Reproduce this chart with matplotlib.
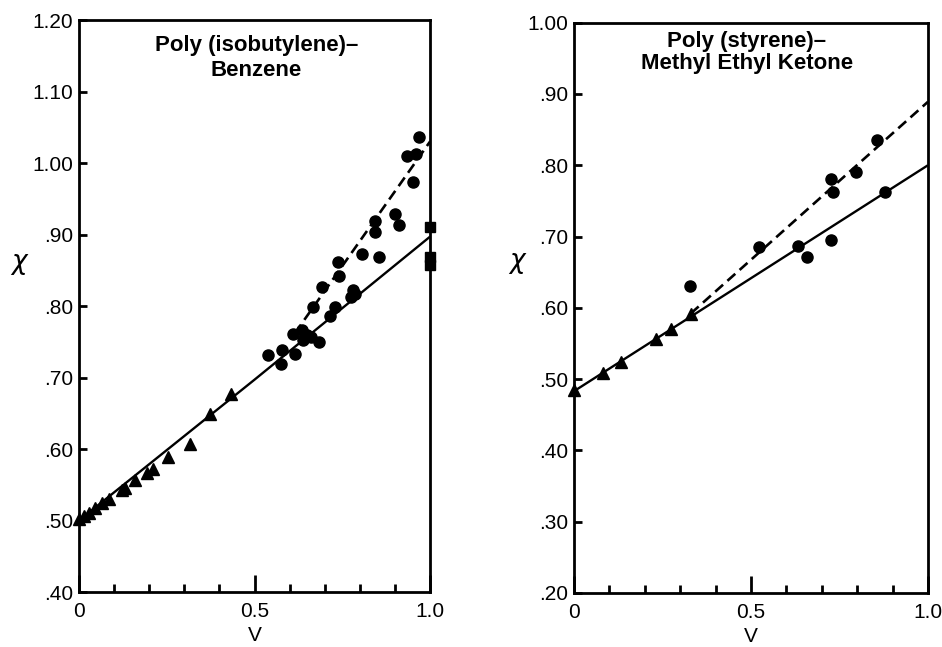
import matplotlib
matplotlib.use("Agg")
import matplotlib.pyplot as plt
from matplotlib.ticker import MultipleLocator, FuncFormatter

plt.rcParams["font.family"] = ["Liberation Sans", "DejaVu Sans"]

# Poly(isobutylene)-benzene
PIB_CIRCLE_V = [0.539, 0.575, 0.577, 0.611, 0.615, 0.634, 0.639, 0.650, 0.660, 0.684,
                0.668, 0.692, 0.715, 0.729, 0.740, 0.737, 0.781, 0.776, 0.785, 0.807,
                0.844, 0.844, 0.855, 0.900, 0.913, 0.935, 0.951, 0.960, 0.970]
PIB_CIRCLE_CHI = [0.731, 0.719, 0.738, 0.761, 0.733, 0.766, 0.752, 0.760, 0.756, 0.750,
                  0.798, 0.826, 0.786, 0.799, 0.842, 0.861, 0.823, 0.812, 0.817, 0.873,
                  0.904, 0.919, 0.868, 0.929, 0.914, 1.010, 0.974, 1.013, 1.036]
PIB_TRI_V = [0.0, 0.015, 0.027, 0.046, 0.065, 0.084, 0.122, 0.131, 0.160, 0.193,
             0.212, 0.254, 0.316, 0.373, 0.433]
PIB_TRI_CHI = [0.502, 0.506, 0.511, 0.518, 0.524, 0.530, 0.542, 0.546, 0.557, 0.567,
               0.572, 0.589, 0.607, 0.649, 0.677]
PIB_SQ_V = [1.0, 1.0, 1.0]
PIB_SQ_CHI = [0.910, 0.868, 0.858]
PIB_SOLID_V = [0.0, 0.5, 1.0]
PIB_SOLID_CHI = [0.500, 0.697, 0.897]
PIB_DASH_V = [0.615, 1.0]
PIB_DASH_CHI = [0.762, 1.030]

# Poly(styrene)-methyl ethyl ketone
PS_CIRCLE_V = [0.328, 0.522, 0.634, 0.657, 0.727, 0.727, 0.732, 0.798, 0.855, 0.879]
PS_CIRCLE_CHI = [0.630, 0.685, 0.687, 0.671, 0.695, 0.781, 0.763, 0.791, 0.835, 0.763]
PS_TRI_V = [0.0, 0.083, 0.132, 0.232, 0.274, 0.330]
PS_TRI_CHI = [0.485, 0.508, 0.524, 0.556, 0.570, 0.591]
PS_SOLID_V = [0.0, 1.0]
PS_SOLID_CHI = [0.483, 0.800]
PS_DASH_V = [0.330, 1.0]
PS_DASH_CHI = [0.592, 0.889]


def y_fmt(v, pos):
    s = f"{v:.2f}"
    return s[1:] if s.startswith("0") else s


def x_fmt(v, pos):
    return {0.0: "0", 0.5: "0.5", 1.0: "1.0"}.get(round(v, 2), "")


def style_axes(ax, ylo, yhi):
    ax.set_xlim(0, 1.0)
    ax.set_ylim(ylo, yhi)
    for s in ax.spines.values():
        s.set_linewidth(2.0)
    ax.xaxis.set_major_locator(MultipleLocator(0.5))
    ax.xaxis.set_minor_locator(MultipleLocator(0.1))
    ax.yaxis.set_major_locator(MultipleLocator(0.1))
    ax.xaxis.set_major_formatter(FuncFormatter(x_fmt))
    ax.yaxis.set_major_formatter(FuncFormatter(y_fmt))
    ax.tick_params(axis="x", which="major", direction="in", length=12, width=2,
                   labelsize=15, pad=7, top=False)
    ax.tick_params(axis="x", which="minor", direction="in", length=6, width=2, top=False)
    ax.tick_params(axis="y", which="major", direction="in", length=6, width=2,
                   labelsize=15, pad=4, right=False)
    ax.set_xlabel("V", fontsize=15, labelpad=4)
    ax.set_ylabel(r"$\chi$", fontsize=19, rotation=0)


def draw(ax, cv, cc, tv, tc, sv, sc, dv, dc):
    ax.plot(sv, sc, color="black", lw=1.7, solid_capstyle="butt", zorder=2)
    ax.plot(dv, dc, color="black", lw=1.9, dashes=(4, 2.2), zorder=2)
    ax.plot(cv, cc, "o", color="black", ms=8, zorder=3, clip_on=False)
    ax.plot(tv, tc, "^", color="black", ms=8, zorder=3, clip_on=False)


fig = plt.figure(figsize=(9.42, 6.47), dpi=100)

ax1 = fig.add_axes([0.0839, 0.085, 0.3726, 0.884])
draw(ax1, PIB_CIRCLE_V, PIB_CIRCLE_CHI, PIB_TRI_V, PIB_TRI_CHI,
     PIB_SOLID_V, PIB_SOLID_CHI, PIB_DASH_V, PIB_DASH_CHI)
ax1.plot(PIB_SQ_V, PIB_SQ_CHI, "s", color="black", ms=7.5, zorder=3, clip_on=False)
style_axes(ax1, 0.40, 1.20)
ax1.yaxis.set_label_coords(-0.17, 0.55)
ax1.text(0.505, 0.934, "Poly (isobutylene)–\nBenzene", transform=ax1.transAxes,
         ha="center", va="center", fontsize=16, fontweight="bold", linespacing=1.25)

ax2 = fig.add_axes([0.6093, 0.0835, 0.3758, 0.8815])
draw(ax2, PS_CIRCLE_V, PS_CIRCLE_CHI, PS_TRI_V, PS_TRI_CHI,
     PS_SOLID_V, PS_SOLID_CHI, PS_DASH_V, PS_DASH_CHI)
style_axes(ax2, 0.20, 1.00)
ax2.yaxis.set_label_coords(-0.16, 0.555)
ax2.text(0.488, 0.948, "Poly (styrene)–\nMethyl Ethyl Ketone", transform=ax2.transAxes,
         ha="center", va="center", fontsize=16, fontweight="bold", linespacing=1.05)

fig.savefig("out.png", dpi=100)
